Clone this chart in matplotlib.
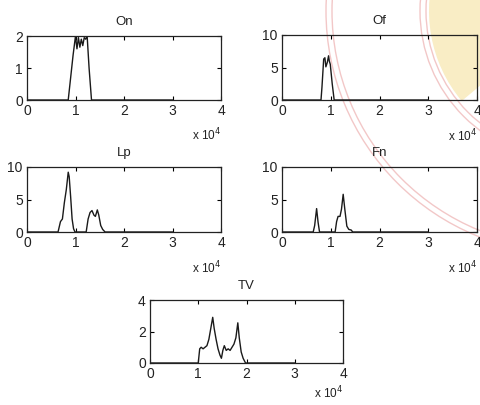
import matplotlib.pyplot as plt
from matplotlib.patches import Circle, Wedge

plt.rcParams['font.family'] = ['Liberation Sans', 'DejaVu Sans']

# histogram outlines for each feature (x in samples, y in counts)
on_x = [0, 8500, 9000, 9500, 10000, 10300, 10600, 10900, 11200, 11500, 11800, 12100, 12400, 12800, 13300, 30000]
on_y = [0, 0, 0.7, 1.4, 2.0, 1.6, 1.95, 1.65, 1.9, 1.7, 1.95, 1.9, 2.0, 1.0, 0, 0]

of_x = [0, 8000, 8200, 8550, 8800, 9000, 9300, 9550, 9700, 9900, 10300, 10700, 30000]
of_y = [0, 0, 2.0, 6.3, 6.5, 5.1, 5.8, 6.8, 6.0, 5.5, 2.5, 0, 0]

lp_x = [0, 6400, 6900, 7300, 7700, 8100, 8500, 8700, 9000, 9300, 9600, 9900,
        12200, 12600, 13000, 13400, 13800, 14100, 14500, 14800, 15200, 15600, 16100, 30000]
lp_y = [0, 0, 1.6, 2.0, 4.5, 6.5, 9.2, 8.5, 5.4, 2.0, 0.5, 0,
        0, 2.0, 3.0, 3.3, 2.6, 2.4, 3.4, 2.6, 1.0, 0.4, 0, 0]

fn_x = [0, 6400, 6700, 7100, 7400, 7700, 10900, 11200, 11500, 11900, 12200, 12550,
        12900, 13300, 13700, 14200, 14500, 30000]
fn_y = [0, 0, 1.0, 3.6, 1.5, 0, 0, 1.6, 2.4, 2.4, 3.5, 5.8,
        3.4, 0.9, 0.4, 0.3, 0, 0]

tv_x = [0, 10000, 10300, 10600, 11000, 11400, 11800, 12200, 12600, 13000, 13300, 13700,
        14100, 14500, 14800, 15100, 15400, 15800, 16200, 16600, 17000, 17400, 17800,
        18200, 18500, 18900, 19300, 19800, 30000]
tv_y = [0, 0, 0.9, 1.0, 0.9, 1.0, 1.1, 1.5, 2.2, 2.9, 2.2, 1.5,
        0.9, 0.5, 0.3, 0.8, 1.1, 0.8, 0.9, 0.8, 1.0, 1.2, 1.6,
        2.55, 1.6, 0.7, 0.3, 0, 0]

x_ticks = [0, 10000, 20000, 30000, 40000]
x_labels = ['0', '1', '2', '3', '4']

W, H = 480, 405
fig = plt.figure(figsize=(W / 100, H / 100), dpi=100)

# faint seal printed behind the figure (pixel coordinates)
bg = fig.add_axes([0, 0, 1, 1], zorder=-1)
bg.set_xlim(0, W)
bg.set_ylim(H, 0)
bg.axis('off')
bg.add_patch(Wedge((569, 11), 140, 140, 200, width=55, color='#f0d270', alpha=0.4, lw=0))
for r in (243, 237, 149, 143):
    bg.add_patch(Circle((569, 11), r, fill=False, ec='#eaa3a3', lw=1.0, alpha=0.6))


def panel(box, x, y, title, yticks, label_y):
    l, r, t, b = box
    ax = fig.add_axes([l / W, 1 - b / H, (r - l) / W, (b - t) / H])
    ax.plot(x, y, color='#1a1a1a', lw=1.0)
    ax.set_xlim(0, 40000)
    ax.set_ylim(yticks[0], yticks[-1])
    ax.set_xticks(x_ticks)
    ax.set_xticklabels(x_labels)
    ax.set_yticks(yticks)
    ax.set_yticklabels([str(v) for v in yticks])
    ax.tick_params(direction='in', length=3, width=0.8, top=True, right=True,
                   labelsize=10, pad=3, labelcolor='#222222')
    for s in ax.spines.values():
        s.set_linewidth(0.9)
        s.set_color('#222222')
    ax.set_facecolor('none')
    ax.set_title(title, fontsize=9.5, pad=8, color='#222222')
    ax.text(1.0, label_y, r'x 10$^4$', transform=ax.transAxes, ha='right',
            va='center', fontsize=8.5, color='#222222')
    return ax


panel((27, 221, 36, 100), on_x, on_y, 'On', [0, 1, 2], -0.55)
panel((282, 477, 35, 100), of_x, of_y, 'Of', [0, 5, 10], -0.55)
panel((27, 221, 167, 232), lp_x, lp_y, 'Lp', [0, 5, 10], -0.55)
panel((282, 477, 167, 232), fn_x, fn_y, 'Fn', [0, 5, 10], -0.55)
panel((150, 343, 300, 363), tv_x, tv_y, 'TV', [0, 2, 4], -0.48)

fig.savefig('out.png', dpi=100)
